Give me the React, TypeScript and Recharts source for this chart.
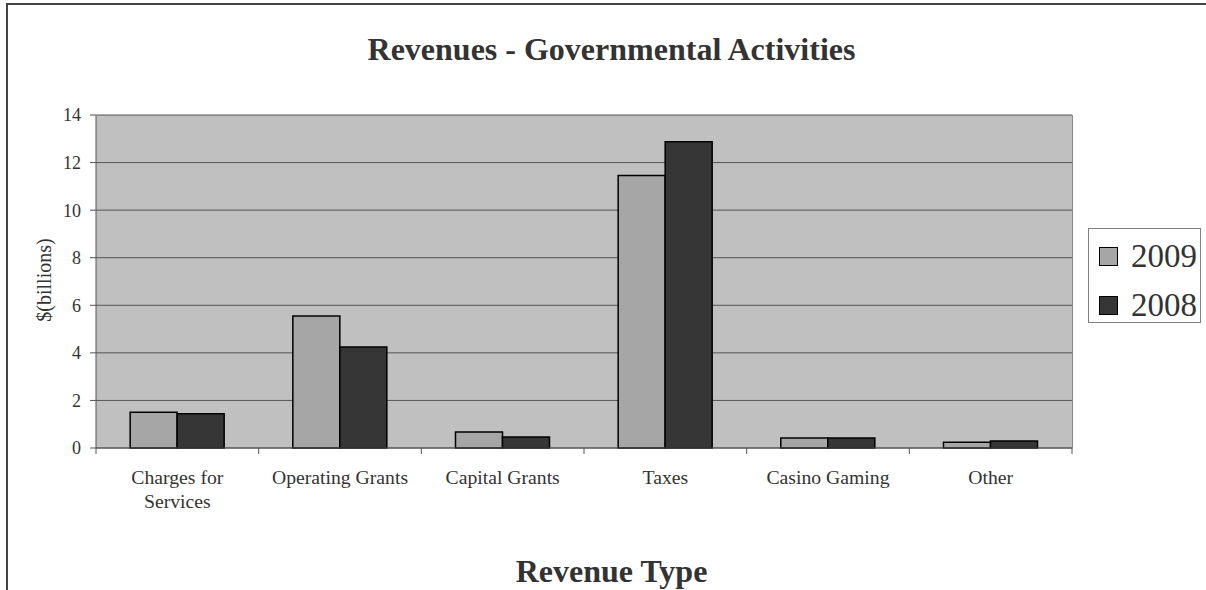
import React from "react";
import { BarChart, Bar, XAxis, YAxis, CartesianGrid, Legend } from "recharts";

const categories = ["Charges for Services", "Operating Grants", "Capital Grants", "Taxes", "Casino Gaming", "Other"];
const values2009 = [1.5, 5.55, 0.67, 11.46, 0.42, 0.24];
const values2008 = [1.44, 4.25, 0.46, 12.88, 0.42, 0.29];
const yTicks = [0, 2, 4, 6, 8, 10, 12, 14];

const data = categories.map((c, i) => ({ name: c, y2009: values2009[i], y2008: values2008[i] }));

const FONT = "'Liberation Serif', 'Times New Roman', serif";
const CHART_W = 1206;
const PLOT_LEFT = 96;
const PLOT_RIGHT_MARGIN = 134;
const BAND = (CHART_W - PLOT_LEFT - PLOT_RIGHT_MARGIN) / categories.length;
const TICK_FONT_SIZE = 19.7;
const WRAP_WIDTH = 150;

let ctx: CanvasRenderingContext2D | null = null;
function measure(s: string): number {
  if (typeof document === "undefined") return s.length * TICK_FONT_SIZE * 0.45;
  if (!ctx) {
    const c = document.createElement("canvas");
    ctx = c.getContext("2d");
  }
  if (!ctx) return s.length * TICK_FONT_SIZE * 0.45;
  ctx.font = `${TICK_FONT_SIZE}px ${FONT}`;
  return ctx.measureText(s).width;
}

function wrap(label: string): string[] {
  const words = label.split(" ");
  const lines: string[] = [];
  let cur = "";
  for (const w of words) {
    const cand = cur ? cur + " " + w : w;
    if (cur && measure(cand) > WRAP_WIDTH) {
      lines.push(cur);
      cur = w;
    } else {
      cur = cand;
    }
  }
  if (cur) lines.push(cur);
  return lines;
}

const CatTick = (props: any) => {
  const { x, y, payload, index } = props;
  const last = index === categories.length - 1;
  const lines = wrap(String(payload.value));
  return (
    <g>
      <line x1={x - BAND / 2} x2={x - BAND / 2} y1={y} y2={y + 6} stroke="#555" />
      {last ? <line x1={x + BAND / 2} x2={x + BAND / 2} y1={y} y2={y + 6} stroke="#555" /> : null}
      <text x={x} y={y + 36} textAnchor="middle" fontFamily={FONT} fontSize={TICK_FONT_SIZE} fill="#333">
        {lines.map((l, i) => (
          <tspan key={i} x={x} dy={i === 0 ? 0 : 24}>
            {l}
          </tspan>
        ))}
      </text>
    </g>
  );
};

const LegendContent = () => (
  <div
    style={{
      border: "1px solid #808080",
      width: 113,
      height: 95,
      boxSizing: "border-box",
      background: "#fff",
      fontFamily: FONT,
      padding: "8px 0 0 10px",
      textAlign: "left",
    }}
  >
    {[
      { label: "2009", color: "#A6A6A6" },
      { label: "2008", color: "#363636" },
    ].map((it) => (
      <div key={it.label} style={{ display: "flex", alignItems: "center", height: 38, marginBottom: 11 }}>
        <div style={{ width: 19, height: 19, background: it.color, border: "1px solid #000", boxSizing: "border-box", marginRight: 13 }} />
        <span style={{ fontSize: 33, color: "#333", lineHeight: "38px" }}>{it.label}</span>
      </div>
    ))}
  </div>
);

export default function App() {
  return (
    <div style={{ position: "absolute", left: 0, top: 0, width: 1206, height: 590, background: "#fff", overflow: "hidden" }}>
      <div
        style={{
          position: "absolute",
          left: 6,
          top: 3,
          width: 1220,
          height: 620,
          borderLeft: "2px solid #444",
          borderTop: "2px solid #444",
          boxSizing: "border-box",
        }}
      />
      <div
        style={{
          position: "absolute",
          left: 0,
          width: 1223,
          top: 30,
          textAlign: "center",
          fontFamily: FONT,
          fontWeight: "bold",
          fontSize: 32,
          lineHeight: "38px",
          color: "#333",
        }}
      >
        Revenues - Governmental Activities
      </div>
      <div
        style={{
          position: "absolute",
          left: 0,
          width: 1223,
          top: 553,
          textAlign: "center",
          fontFamily: FONT,
          fontWeight: "bold",
          fontSize: 32,
          lineHeight: "36px",
          color: "#333",
        }}
      >
        Revenue Type
      </div>
      <div
        style={{
          position: "absolute",
          left: 44,
          top: 280,
          transform: "translate(-50%, -50%) rotate(-90deg)",
          fontFamily: FONT,
          fontSize: 20,
          color: "#333",
          whiteSpace: "nowrap",
        }}
      >
        $(billions)
      </div>
      <div style={{ position: "absolute", left: 0, top: 0 }}>
        <BarChart
          width={CHART_W}
          height={590}
          data={data}
          margin={{ top: 115, right: PLOT_RIGHT_MARGIN, left: 0, bottom: 0 }}
          barCategoryGap="21%"
          barGap={0}
        >
          <CartesianGrid fill="#C0C0C0" stroke="#555" vertical={false} strokeWidth={1} />
          <XAxis
            dataKey="name"
            height={142}
            tickLine={false}
            tickSize={0}
            tickMargin={0}
            axisLine={{ stroke: "#555" }}
            tick={<CatTick />}
            interval={0}
          />
          <YAxis
            width={PLOT_LEFT}
            domain={[0, 14]}
            ticks={yTicks}
            interval={0}
            tickSize={6}
            tickMargin={9}
            tickLine={{ stroke: "#555" }}
            axisLine={{ stroke: "#555" }}
            tick={{ fontFamily: FONT, fontSize: 18, fill: "#333" }}
          />
          <Legend
            layout="horizontal"
            align="center"
            verticalAlign="middle"
            content={<LegendContent />}
            wrapperStyle={{ position: "absolute", left: 1088, top: 228, width: 113, height: 95 }}
          />
          <Bar dataKey="y2009" name="2009" fill="#A6A6A6" stroke="#000" strokeWidth={1.5} isAnimationActive={false} />
          <Bar dataKey="y2008" name="2008" fill="#363636" stroke="#000" strokeWidth={1.5} isAnimationActive={false} />
        </BarChart>
      </div>
      <div
        style={{
          position: "absolute",
          left: 96,
          top: 115,
          width: 977,
          height: 334,
          borderTop: "1px solid #888",
          borderRight: "1px solid #888",
          boxSizing: "border-box",
          pointerEvents: "none",
        }}
      />
    </div>
  );
}
